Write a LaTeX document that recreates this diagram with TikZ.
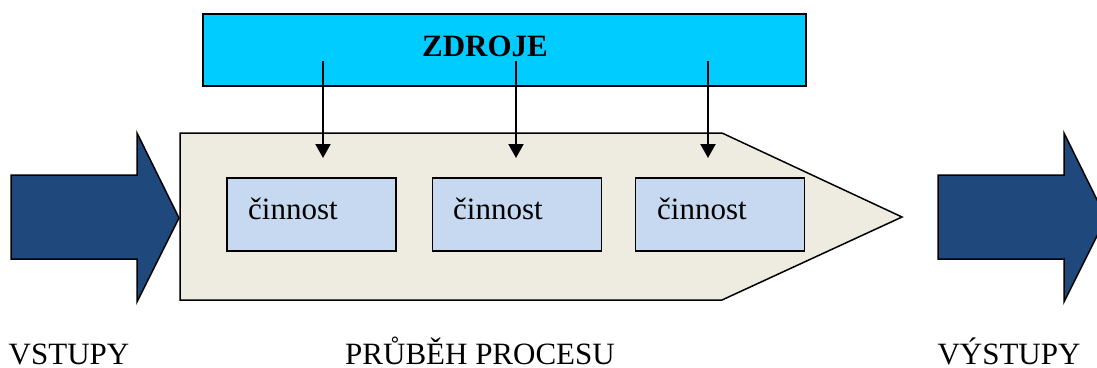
\documentclass[tikz,border=0pt]{standalone}
\usepackage{fontspec}
\setmainfont{Liberation Serif}
\usetikzlibrary{arrows.meta}
\definecolor{flowblue}{HTML}{1F497D}
\definecolor{procfill}{HTML}{EEECE1}
\definecolor{actfill}{HTML}{C6D9F1}
\definecolor{resfill}{HTML}{00CCFF}
\tikzset{
  bigfont/.style={font=\fontsize{31}{36}\selectfont},
  flowarrow/.style={draw=black, line width=1.5pt, fill=flowblue, line join=miter},
  actbox/.style={draw=black, line width=1.5pt, fill=actfill, minimum width=169pt, minimum height=73pt, inner sep=0pt},
  acttext/.style={bigfont, anchor=base west, inner sep=0pt},
  feed/.style={line width=2pt, -{Triangle[width=15pt,length=14pt]}},
  label/.style={bigfont, anchor=base, inner sep=0pt}
}
\begin{document}
\begin{tikzpicture}[x=1pt, y=-1pt]
  \useasboundingbox (0,0) rectangle (1097,367);
  \begin{scope}
    \clip (0,0) rectangle (1097,367);
    % input arrow
    \draw[flowarrow] (11,175) -- (137,175) -- (137,133) -- (179,218) -- (137,302) -- (137,259) -- (11,259) -- cycle;
    % output arrow (tip runs past the right edge)
    \draw[flowarrow] (938,175) -- (1064,175) -- (1064,133) -- (1106,218) -- (1064,302) -- (1064,259) -- (938,259) -- cycle;
  \end{scope}
  % process body
  \draw[draw=black, line width=1.5pt, fill=procfill] (180,133) -- (722,133) -- (902,217) -- (722,300) -- (180,300) -- cycle;
  % resources
  \node[draw=black, line width=1.5pt, fill=resfill, minimum width=603pt, minimum height=72pt, inner sep=0pt] (zdroje) at (504.5,50) {};
  \node[label, font=\fontsize{31}{36}\selectfont\bfseries] (zt) at (485,56) {ZDROJE};
  % activities
  \node[actbox] (a1) at (311.5,214.5) {};
  \node[actbox] (a2) at (517,214.5) {};
  \node[actbox] (a3) at (720,214.5) {};
  \node[acttext] (t1) at (248,219.5) {činnost};
  \node[acttext] (t2) at (453,219.5) {činnost};
  \node[acttext] (t3) at (657,219.5) {činnost};
  % resource feeds
  \coordinate (s1) at (323,61);
  \coordinate (s2) at (516,61);
  \coordinate (s3) at (708,61);
  \draw[feed] (s1) -- (s1 |- 0,158);
  \draw[feed] (s2) -- (s2 |- 0,158);
  \draw[feed] (s3) -- (s3 |- 0,158);
  % captions
  \node[label] (l1) at (69,364) {VSTUPY};
  \node[label] (l2) at (480,364) {PRŮBĚH PROCESU};
  \node[label] (l3) at (1009,364) {VÝSTUPY};
\end{tikzpicture}
\end{document}
